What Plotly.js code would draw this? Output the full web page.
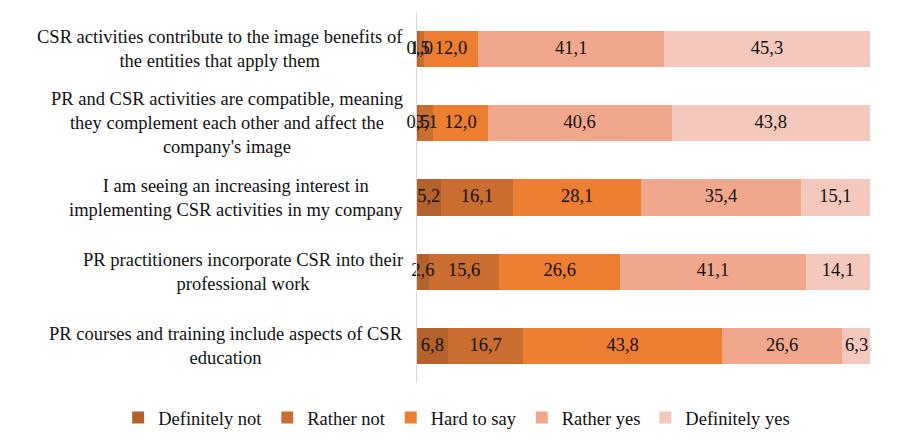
<!DOCTYPE html>
<html>
<head>
<meta charset="utf-8">
<script src="https://cdn.plot.ly/plotly-3.0.1.min.js"></script>
<style>html,body{margin:0;padding:0;background:#fff;}#chart{width:923px;height:448px;}</style>
</head>
<body>
<div id="chart"></div>
<script>
const categories = [
  "CSR activities contribute to the image benefits of<br>the entities that apply them",
  "PR and CSR activities are compatible, meaning<br>they complement each other and affect the<br>company's image",
  "I am seeing an increasing interest in<br>implementing CSR activities in my company",
  "PR practitioners incorporate CSR into their<br>professional work",
  "PR courses and training include aspects of CSR<br>education"
];
const seriesNames = ["Definitely not", "Rather not", "Hard to say", "Rather yes", "Definitely yes"];
const definitelyNot = [0.5, 0.5, 5.2, 2.6, 6.8];
const ratherNot     = [1.0, 3.1, 16.1, 15.6, 16.7];
const hardToSay     = [12.0, 12.0, 28.1, 26.6, 43.8];
const ratherYes     = [41.1, 40.6, 35.4, 41.1, 26.6];
const definitelyYes = [45.3, 43.8, 15.1, 14.1, 6.3];
const colors = ["#B4622C", "#C96E30", "#ED7D31", "#F1A78B", "#F4C8BD"];

const seriesValues = [definitelyNot, ratherNot, hardToSay, ratherYes, definitelyYes];
const font = "Liberation Serif, Times New Roman, serif";
const fs = 18.5;

const traces = seriesValues.map((vals, i) => ({
  type: "bar",
  orientation: "h",
  name: seriesNames[i],
  y: categories,
  x: vals,
  width: 0.49,
  marker: {color: colors[i], line: {width: 0}},
  hoverinfo: "none"
}));

// data labels centred on each stacked segment
const labX = [], labY = [], labT = [];
categories.forEach((c, j) => {
  let base = 0;
  seriesValues.forEach(vals => {
    labX.push(base + vals[j] / 2);
    labY.push(c);
    labT.push(vals[j].toFixed(1).replace(".", ","));
    base += vals[j];
  });
});
traces.push({
  type: "scatter", mode: "text", x: labX, y: labY, text: labT,
  textposition: "middle center", cliponaxis: false, showlegend: false, hoverinfo: "none",
  textfont: {family: font, size: fs, color: "#111"}
});

const annotations = categories.map(c => ({
  xref: "x", yref: "y", x: 0, y: c,
  xanchor: "right", yanchor: "middle", xshift: -12,
  text: c, align: "center", showarrow: false,
  font: {family: font, size: fs, color: "#111"}
}));

const layout = {
  width: 923, height: 448,
  barmode: "stack",
  margin: {l: 0, r: 53, t: 12, b: 65},
  paper_bgcolor: "#fff", plot_bgcolor: "#fff",
  font: {family: font, size: fs, color: "#111"},
  xaxis: {domain: [417 / 870, 1], range: [0, 100], showgrid: false, zeroline: false, showticklabels: false, ticks: ""},
  yaxis: {autorange: "reversed", showticklabels: false, ticks: "", showgrid: false, showline: true, linecolor: "#D9D9D9", linewidth: 1.5, zeroline: false},
  annotations: annotations,
  showlegend: true,
  legend: {orientation: "h", xref: "container", yref: "container", x: 0.128, xanchor: "left", y: 0.067, yanchor: "middle",
    font: {family: font, size: fs, color: "#111"}, traceorder: "normal", itemwidth: 30}
};

Plotly.newPlot("chart", traces, layout, {displayModeBar: false, staticPlot: true});
</script>
</body>
</html>
